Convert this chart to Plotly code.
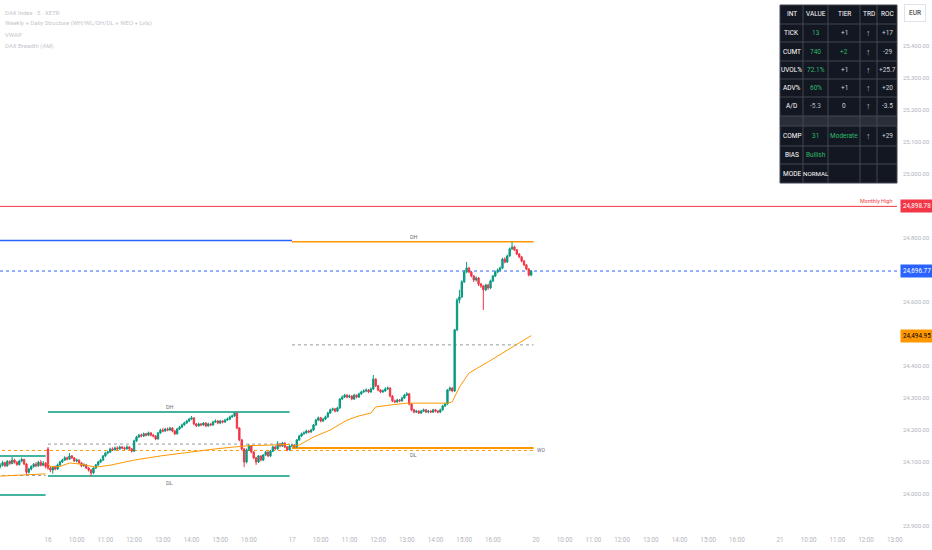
import plotly.graph_objects as go

# DAX Index, 5-minute bars (XETRA, 102 bars per session)
# bar 0 = 16 Oct 09:00, negative bars = end of 15 Oct session
first_bar = -20

opens = [
    # 15 Oct
    24085, 24090, 24098, 24088, 24102, 24095, 24106, 24099, 24092, 24103,
    24108, 24094, 24068, 24078, 24086, 24093, 24088, 24099, 24090, 24096,
    # 16 Oct
    24141, 24081, 24075, 24084, 24078, 24091, 24100, 24106, 24113, 24109,
    24119, 24113, 24103, 24106, 24097, 24088, 24091, 24081, 24075, 24066,
    24081, 24091, 24100, 24106, 24119, 24128, 24131, 24141, 24138, 24144,
    24141, 24147, 24144, 24141, 24147, 24141, 24134, 24166, 24178, 24184,
    24181, 24188, 24184, 24191, 24184, 24181, 24172, 24191, 24200, 24197,
    24203, 24200, 24206, 24197, 24188, 24203, 24209, 24216, 24222, 24228,
    24234, 24238, 24219, 24213, 24219, 24216, 24222, 24213, 24219, 24216,
    24225, 24228, 24222, 24228, 24225, 24231, 24234, 24241, 24244, 24253,
    24206, 24169, 24141, 24100, 24138, 24150, 24131, 24113, 24100, 24119,
    24106, 24122, 24131, 24119, 24134, 24147, 24141, 24156, 24150, 24159,
    24147, 24138,
    # 17 Oct
    24150, 24153, 24147, 24169, 24181, 24188, 24191, 24197, 24194, 24200,
    24216, 24231, 24238, 24228, 24234, 24241, 24253, 24263, 24266, 24259,
    24269, 24297, 24303, 24309, 24303, 24306, 24297, 24309, 24303, 24313,
    24319, 24322, 24325, 24319, 24328, 24359, 24338, 24325, 24319, 24322,
    24328, 24331, 24306, 24291, 24288, 24294, 24291, 24300, 24309, 24313,
    24281, 24263, 24256, 24259, 24253, 24259, 24263, 24256, 24259, 24256,
    24263, 24259, 24256, 24263, 24275, 24281, 24325, 24331, 24322, 24513,
    24606, 24616, 24663, 24694, 24706, 24694, 24681, 24669, 24675, 24656,
    24650, 24638, 24653, 24644, 24666, 24681, 24694, 24700, 24706, 24734,
    24725, 24744, 24766, 24772, 24763, 24750, 24741, 24728, 24716, 24703,
    24684,
]

highs = [
    # 15 Oct
    24096, 24104, 24101, 24106, 24105, 24116, 24110, 24103, 24107, 24114,
    24110, 24096, 24082, 24090, 24097, 24100, 24104, 24106, 24103, 24100,
    # 16 Oct
    24147, 24086, 24088, 24089, 24095, 24104, 24110, 24118, 24117, 24128,
    24122, 24115, 24111, 24108, 24100, 24096, 24094, 24084, 24078, 24084,
    24094, 24104, 24110, 24122, 24132, 24136, 24145, 24146, 24148, 24149,
    24151, 24150, 24148, 24152, 24150, 24144, 24170, 24182, 24188, 24189,
    24192, 24191, 24195, 24194, 24188, 24184, 24194, 24204, 24206, 24207,
    24208, 24210, 24209, 24200, 24206, 24213, 24220, 24226, 24232, 24238,
    24244, 24240, 24222, 24223, 24222, 24225, 24224, 24223, 24222, 24229,
    24233, 24231, 24232, 24231, 24235, 24239, 24245, 24248, 24256, 24255,
    24209, 24172, 24144, 24142, 24156, 24153, 24134, 24116, 24122, 24121,
    24125, 24135, 24134, 24138, 24151, 24150, 24165, 24160, 24163, 24162,
    24150, 24154,
    # 17 Oct
    24158, 24156, 24172, 24185, 24192, 24196, 24201, 24200, 24204, 24219,
    24235, 24242, 24241, 24238, 24245, 24257, 24267, 24270, 24269, 24273,
    24300, 24308, 24313, 24312, 24311, 24309, 24313, 24311, 24317, 24323,
    24327, 24330, 24328, 24333, 24372, 24362, 24341, 24328, 24327, 24334,
    24336, 24334, 24309, 24295, 24298, 24297, 24304, 24313, 24318, 24316,
    24284, 24266, 24263, 24262, 24262, 24267, 24266, 24263, 24262, 24266,
    24266, 24262, 24267, 24279, 24285, 24328, 24336, 24334, 24516, 24612,
    24638, 24668, 24700, 24725, 24710, 24697, 24684, 24680, 24678, 24660,
    24653, 24657, 24657, 24670, 24685, 24698, 24705, 24711, 24738, 24740,
    24748, 24770, 24788, 24776, 24766, 24753, 24744, 24731, 24719, 24706,
    24700,
]

lows = [
    # 15 Oct
    24080, 24086, 24084, 24085, 24091, 24093, 24095, 24088, 24089, 24099,
    24090, 24060, 24064, 24074, 24082, 24084, 24085, 24086, 24087, 24080,
    # 16 Oct
    24076, 24068, 24063, 24074, 24075, 24088, 24097, 24103, 24105, 24107,
    24110, 24100, 24099, 24093, 24084, 24085, 24078, 24070, 24056, 24062,
    24078, 24088, 24097, 24103, 24116, 24124, 24128, 24134, 24135, 24137,
    24138, 24140, 24137, 24139, 24138, 24130, 24132, 24163, 24175, 24177,
    24178, 24180, 24181, 24180, 24177, 24168, 24170, 24188, 24193, 24194,
    24196, 24197, 24193, 24184, 24186, 24200, 24206, 24213, 24219, 24225,
    24231, 24215, 24209, 24210, 24212, 24213, 24209, 24210, 24212, 24213,
    24222, 24218, 24219, 24221, 24222, 24228, 24231, 24238, 24241, 24202,
    24165, 24136, 24084, 24096, 24134, 24127, 24109, 24091, 24097, 24102,
    24103, 24119, 24115, 24116, 24131, 24137, 24138, 24146, 24147, 24143,
    24134, 24135,
    # 17 Oct
    24146, 24144, 24145, 24166, 24178, 24185, 24188, 24190, 24191, 24197,
    24213, 24228, 24224, 24225, 24231, 24238, 24250, 24259, 24255, 24256,
    24266, 24294, 24300, 24299, 24300, 24293, 24294, 24299, 24300, 24310,
    24316, 24318, 24315, 24316, 24325, 24334, 24321, 24315, 24316, 24319,
    24325, 24302, 24287, 24284, 24285, 24287, 24288, 24297, 24306, 24277,
    24259, 24252, 24253, 24250, 24250, 24256, 24253, 24252, 24253, 24253,
    24255, 24252, 24253, 24260, 24272, 24278, 24321, 24318, 24319, 24509,
    24596, 24612, 24659, 24690, 24690, 24677, 24662, 24664, 24650, 24644,
    24575, 24634, 24638, 24640, 24662, 24678, 24690, 24696, 24703, 24721,
    24722, 24741, 24762, 24759, 24746, 24737, 24724, 24712, 24699, 24680,
    24681,
]

closes = [
    # 15 Oct
    24090, 24098, 24088, 24102, 24095, 24106, 24099, 24092, 24103, 24108,
    24094, 24068, 24078, 24086, 24093, 24088, 24099, 24090, 24096, 24086,
    # 16 Oct
    24081, 24075, 24084, 24078, 24091, 24100, 24106, 24113, 24109, 24119,
    24113, 24103, 24106, 24097, 24088, 24091, 24081, 24075, 24066, 24081,
    24091, 24100, 24106, 24119, 24128, 24131, 24141, 24138, 24144, 24141,
    24147, 24144, 24141, 24147, 24141, 24134, 24166, 24178, 24184, 24181,
    24188, 24184, 24191, 24184, 24181, 24172, 24191, 24200, 24197, 24203,
    24200, 24206, 24197, 24188, 24203, 24209, 24216, 24222, 24228, 24234,
    24238, 24219, 24213, 24219, 24216, 24222, 24213, 24219, 24216, 24225,
    24228, 24222, 24228, 24225, 24231, 24234, 24241, 24244, 24253, 24206,
    24169, 24141, 24100, 24138, 24150, 24131, 24113, 24100, 24119, 24106,
    24122, 24131, 24119, 24134, 24147, 24141, 24156, 24150, 24159, 24147,
    24138, 24150,
    # 17 Oct
    24153, 24147, 24169, 24181, 24188, 24191, 24197, 24194, 24200, 24216,
    24231, 24238, 24228, 24234, 24241, 24253, 24263, 24266, 24259, 24269,
    24297, 24303, 24309, 24303, 24306, 24297, 24309, 24303, 24313, 24319,
    24322, 24325, 24319, 24328, 24359, 24338, 24325, 24319, 24322, 24328,
    24331, 24306, 24291, 24288, 24294, 24291, 24300, 24309, 24313, 24281,
    24263, 24256, 24259, 24253, 24259, 24263, 24256, 24259, 24256, 24263,
    24259, 24256, 24263, 24275, 24281, 24325, 24331, 24322, 24513, 24606,
    24616, 24663, 24694, 24706, 24694, 24681, 24669, 24675, 24656, 24650,
    24638, 24653, 24644, 24666, 24681, 24694, 24700, 24706, 24734, 24725,
    24744, 24766, 24772, 24763, 24750, 24741, 24728, 24716, 24703, 24684,
    24696.77,
]

# VWAP, read at a few bars per session
vwap15_bars = [-20, -10, -1]
vwap15 = [24056, 24059, 24063]
vwap16_bars = [0, 1, 5, 9, 13, 20, 26, 36, 47, 59, 70, 78, 84, 93, 101]
vwap16 = [24095, 24085, 24086, 24097, 24094, 24084, 24090, 24106, 24119,
          24131, 24141, 24147, 24151, 24153, 24155]
vwap17_bars = [102, 105, 111, 118, 125, 130, 135, 137, 143, 150, 167, 169,
               172, 176, 184, 192, 202]
vwap17 = [24150, 24153, 24178, 24200, 24231, 24244, 24253, 24272, 24278,
          24284, 24284, 24288, 24334, 24378, 24413, 24450, 24494.95]

# session structure
session_start = {"15": -102, "16": 0, "17": 102, "20": 204, "21": 306}
session_len = 102
day_high = {"15": 24119, "16": 24256, "17": 24788}
day_low = {"15": 23997, "16": 24056, "17": 24144}

monthly_high = 24898.78
prior_high = 24792
weekly_open = 24136
last_price = 24696.77
vwap_last = 24494.95

# axis labels (price ticks under the tags / EUR box are not shown)
y_ticks = [23900, 24000, 24100, 24200, 24300, 24400, 24600, 24800,
           25000, 25100, 25200, 25300, 25400]
tick_days = ["16", "17", "20", "21"]
tick_hours = ["10:00", "11:00", "12:00", "13:00", "14:00", "15:00", "16:00"]

# breadth table
table_header = ["INT", "VALUE", "TIER", "TRD", "ROC"]
table_int = ["TICK", "CUMT", "UVOL%", "ADV%", "A/D", "", "COMP", "BIAS", "MODE"]
table_value = ["13", "740", "72.1%", "60%", "-5.3", "", "31", "Bullish", "NORMAL"]
table_tier = ["+1", "+2", "+1", "+1", "0", "", "Moderate", "", ""]
table_trd = ["↑", "↑", "↑", "↑", "↑", "", "↑", "", ""]
table_roc = ["+17", "-29", "+25.7", "+20", "-3.5", "", "+29", "", ""]

GREEN = "#089981"
RED = "#f23645"
ORANGE = "#ff9800"
BLUE = "#2962ff"
TXT_GREEN = "#2ebd6b"
FONT = "Roboto, sans-serif"

W, H = 932, 550
ML, MR, MT, MB = 0, 35, 0, 15
PW, PH = W - ML - MR, H - MT - MB


def px(x):
    return (x - ML) / PW


def py(y):
    return 1 - (y - MT) / PH


bars = list(range(first_bar, first_bar + len(closes)))
bar_px = 2.392  # pixel width of one bar
x_lo = -48 / bar_px
x_hi = x_lo + PW / bar_px
y_lo, y_hi = 23871.9, 25543.75

fig = go.Figure()

fig.add_trace(go.Candlestick(
    x=bars, open=opens, high=highs, low=lows, close=closes,
    increasing=dict(line=dict(color=GREEN, width=1), fillcolor=GREEN),
    decreasing=dict(line=dict(color=RED, width=1), fillcolor=RED),
    whiskerwidth=0, showlegend=False, hoverinfo="skip",
))

for vb, vv in [(vwap15_bars, vwap15), (vwap16_bars, vwap16), (vwap17_bars, vwap17)]:
    fig.add_trace(go.Scatter(x=vb, y=vv, mode="lines",
                             line=dict(color=ORANGE, width=1),
                             showlegend=False, hoverinfo="skip"))

shapes = []
annotations = []


def hline(x0, x1, y, color, width=1, dash="solid", xref="x"):
    shapes.append(dict(type="line", xref=xref, yref="y", x0=x0, x1=x1, y0=y, y1=y,
                       line=dict(color=color, width=width, dash=dash), layer="below"))


# monthly high and last price across the whole chart
hline(0, 1, monthly_high, RED, 1, xref="paper")
hline(0, 1, last_price, BLUE, 1, "dot", xref="paper")
# prior high up to the 17 Oct session
hline(session_start["15"], session_start["17"], prior_high, BLUE, 1.5)
# weekly open
hline(session_start["15"], session_start["17"] + session_len - 1, weekly_open, ORANGE, 1, "dot")

for d in ["15", "16", "17"]:
    s = session_start[d]
    e = s + session_len - 1
    col = ORANGE if d == "17" else GREEN
    hline(s, e, day_high[d], col, 1.5)
    hline(s, e, day_low[d], col, 2 if d == "17" else 1.5)
    hline(s, e, (day_high[d] + day_low[d]) / 2, "#9598a1", 1, "dot")
    if d != "15":
        mid = s + session_len / 2
        annotations.append(dict(x=mid, y=day_high[d], xref="x", yref="y", text="DH",
                                showarrow=False, xanchor="center", yanchor="bottom",
                                font=dict(size=5.5, color="#6a6d78")))
        annotations.append(dict(x=mid, y=day_low[d], xref="x", yref="y", text="DL",
                                showarrow=False, xanchor="center", yanchor="top", yshift=-2,
                                font=dict(size=5.5, color="#6a6d78")))

annotations.append(dict(x=session_start["17"] + session_len - 1, y=weekly_open,
                        xref="x", yref="y", text="WO", showarrow=False,
                        xanchor="left", yanchor="middle", xshift=1,
                        font=dict(size=5, color="#6a6d78")))
annotations.append(dict(x=1, y=monthly_high, xref="paper", yref="y", text="Monthly High",
                        showarrow=False, xanchor="right", yanchor="bottom", xshift=-2,
                        font=dict(size=5.5, color=RED)))

# price tags on the right axis
for val, bg, fg in [(monthly_high, RED, "white"), (last_price, BLUE, "white"),
                    (vwap_last, ORANGE, "black")]:
    annotations.append(dict(x=1, y=val, xref="paper", yref="y", text=f"{val:,.2f}",
                            showarrow=False, xanchor="left", yanchor="middle", xshift=3,
                            bgcolor=bg, borderpad=2,
                            font=dict(size=6.3, color=fg, family=FONT)))

annotations.append(dict(x=px(915), y=py(13), xref="paper", yref="paper", text="EUR",
                        showarrow=False, xanchor="center", yanchor="middle",
                        bgcolor="white", bordercolor="#e0e3eb",
                        borderwidth=1, borderpad=4, font=dict(size=6.5, color="#131722")))

# legend lines top-left
legend_lines = ["DAX Index · 5 · XETR",
                "Weekly + Daily Structure (WH/WL/DH/DL + WEO + Lvls)",
                "VWAP",
                "DAX Breadth (AM)"]
for k, t in enumerate(legend_lines):
    annotations.append(dict(x=px(3), y=py(12 + 11.3 * k), xref="paper", yref="paper",
                            text=t, showarrow=False, xanchor="left", yanchor="middle",
                            font=dict(size=6, color="#c3c6cc")))

# breadth table
col_edges = [780, 803, 828, 860, 877, 897]
row_edges = [5, 24, 42, 61, 79, 97, 116, 126, 146, 164, 183]
shapes.append(dict(type="rect", xref="paper", yref="paper", x0=px(col_edges[0]),
                   x1=px(col_edges[-1]), y0=py(row_edges[0]), y1=py(row_edges[-1]),
                   fillcolor="#131722", line=dict(color="#434651", width=1)))
shapes.append(dict(type="rect", xref="paper", yref="paper", x0=px(col_edges[0]),
                   x1=px(col_edges[-1]), y0=py(row_edges[6]), y1=py(row_edges[7]),
                   fillcolor="#2a2e39", line=dict(width=0)))
for yy in row_edges[1:-1]:
    shapes.append(dict(type="line", xref="paper", yref="paper", x0=px(col_edges[0]),
                       x1=px(col_edges[-1]), y0=py(yy), y1=py(yy),
                       line=dict(color="#434651", width=1)))
for xx in col_edges[1:-1]:
    shapes.append(dict(type="line", xref="paper", yref="paper", x0=px(xx), x1=px(xx),
                       y0=py(row_edges[0]), y1=py(row_edges[-1]),
                       line=dict(color="#434651", width=1)))


def cell(text, c, r, color="#ffffff", size=6.5):
    if not text:
        return
    xc = (col_edges[c] + col_edges[c + 1]) / 2
    yc = (row_edges[r] + row_edges[r + 1]) / 2
    annotations.append(dict(x=px(xc), y=py(yc), xref="paper", yref="paper", text=text,
                            showarrow=False, xanchor="center", yanchor="middle",
                            font=dict(size=size, color=color, family=FONT)))


for c, t in enumerate(table_header):
    cell(t, c, 0)
for r in range(len(table_int)):
    row = r + 1
    cell(table_int[r], 0, row)
    v = table_value[r]
    vcol = "#b2b5be" if v.startswith("-") else ("#ffffff" if v == "NORMAL" else TXT_GREEN)
    cell(v, 1, row, vcol, 6.2 if v == "NORMAL" else 6.5)
    t = table_tier[r]
    cell(t, 2, row, TXT_GREEN if t in ("+2", "Moderate") else "#d1d4dc")
    cell(table_trd[r], 3, row, "#b2b5be", 9)
    cell(table_roc[r], 4, row, "#d1d4dc")

# x ticks
tickvals = [session_start["15"] + 84]
ticktext = ["16:00"]
for d in tick_days:
    s = session_start[d]
    tickvals.append(s)
    ticktext.append(d)
    for k, h in enumerate(tick_hours):
        if d == "21" and k > 3:
            break
        tickvals.append(s + 12 * (k + 1))
        ticktext.append(h)

fig.update_layout(
    width=W, height=H,
    margin=dict(l=ML, r=MR, t=MT, b=MB),
    paper_bgcolor="white", plot_bgcolor="white",
    font=dict(family=FONT, color="#b2b5be"),
    shapes=shapes, annotations=annotations,
    showlegend=False, hovermode=False, boxgap=0.2,
    xaxis=dict(range=[x_lo, x_hi], tickvals=tickvals, ticktext=ticktext,
               showgrid=False, zeroline=False, showline=False, ticks="",
               automargin=False, rangeslider=dict(visible=False),
               tickfont=dict(size=6.3, color="#b2b5be")),
    yaxis=dict(range=[y_lo, y_hi], side="right", tickvals=y_ticks, tickformat=",.2f",
               showgrid=False, zeroline=False, showline=False, ticks="",
               automargin=False, ticklabelstandoff=5,
               tickfont=dict(size=6, color="#b2b5be")),
)

# the page body carries a default 8px margin; drop it so the chart fills the window
fig.write_html("out.html", config={"displayModeBar": False},
               post_script="document.body.style.margin='0';")
